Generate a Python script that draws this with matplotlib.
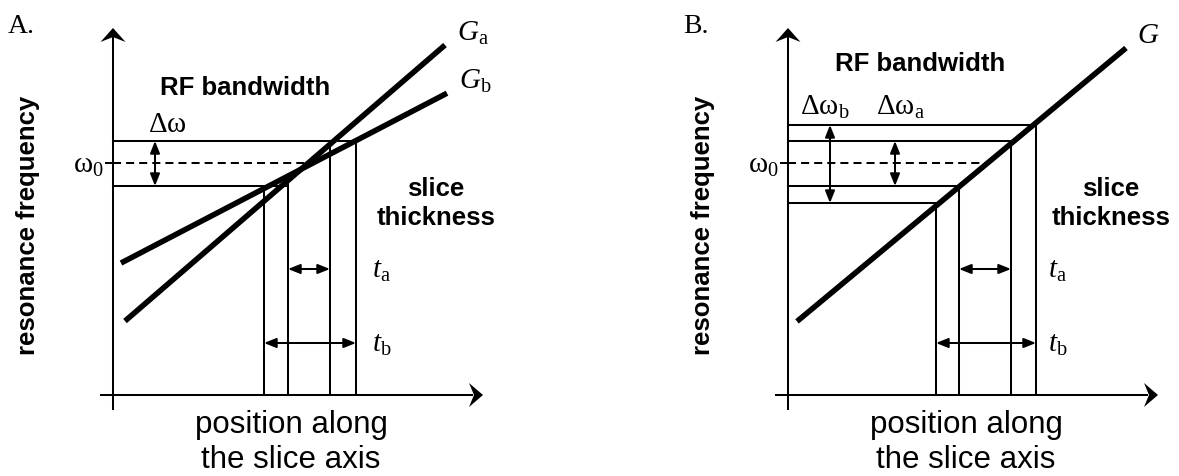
import matplotlib
matplotlib.use("Agg")
import matplotlib.pyplot as plt
from matplotlib.patches import Polygon

plt.rcParams["mathtext.fontset"] = "custom"
plt.rcParams["mathtext.rm"] = "Liberation Serif"
plt.rcParams["mathtext.it"] = "Liberation Serif:italic"

W, H = 1179, 476

omega0 = 232.5
band_a = [209, 254]          # RF bandwidth (Δω in A, Δω_a in B)
band_b = [192, 270]          # wider bandwidth Δω_b in B

# gradient lines: slope, intercept, x start, x end
grad_A = {"a": [0.8625, 63.6, 12, 332], "b": [0.521, 127.8, 8, 334]}
grad_B = [0.831, 66.1, 9, 338]

# slice edges along the position axis
slice_A = {"a": [175, 217], "b": [151, 243]}
slice_B = {"a": [171, 223], "b": [148, 248]}

THIN = 1.45
THICK = 4.0
DASH = (4, 2.5)
SERIF = 21
BOLD = dict(family="Liberation Sans", weight="bold", fontsize=18.5)


def line_y(g, x):
    return g[0] * x + g[1]


def draw_axes(ax):
    ax.plot([-13, 360], [0, 0], color="k", lw=THIN, solid_capstyle="butt")
    ax.plot([0, 0], [-15, 358], color="k", lw=THIN, solid_capstyle="butt")
    ax.add_patch(Polygon([(370, 0), (356, -12), (361, 0), (356, 12)],
                         closed=True, color="k", lw=0))
    ax.add_patch(Polygon([(0, 367), (12.5, 353), (0, 358), (-12.5, 353)],
                         closed=True, color="k", lw=0))


def dbl_arrow(ax, p, q):
    ax.annotate("", xy=q, xytext=p, annotation_clip=False,
                arrowprops=dict(arrowstyle="<|-|>,head_length=0.45,head_width=0.18",
                                mutation_scale=16, lw=THIN, color="k",
                                shrinkA=0, shrinkB=0))


def common_text(ax, letter, rf_y):
    ax.text(-105, 362, letter, family="Liberation Serif", fontsize=20,
            ha="left", va="baseline")
    ax.text(132, rf_y, "RF bandwidth", ha="center", va="baseline", **BOLD)
    ax.text(323, 199, "slice", ha="center", va="baseline", **BOLD)
    ax.text(323, 170, "thickness", ha="center", va="baseline", **BOLD)
    ax.text(-85, 170, "resonance frequency", rotation=90,
            ha="center", va="center", **BOLD)
    ax.text(178, -38, "position along", family="Liberation Sans",
            fontsize=22.5, ha="center", va="baseline")
    ax.text(178, -73, "the slice axis", family="Liberation Sans",
            fontsize=22.5, ha="center", va="baseline")
    ax.plot([-8, 0], [omega0, omega0], color="k", lw=THIN, dashes=DASH)
    ax.text(-9, omega0 - 10, r"$\mathrm{ω}_\mathrm{0}$", fontsize=SERIF,
            ha="right", va="baseline")


def slice_marks(ax, edges, g_left, g_right):
    l, r = edges
    ax.plot([l, l], [0, line_y(g_left, l)], color="k", lw=THIN)
    ax.plot([r, r], [0, line_y(g_right, r)], color="k", lw=THIN)


fig = plt.figure(figsize=(W / 100, H / 100), dpi=100)

# ---------------- panel A ----------------
axA = fig.add_axes([0, 0, 600 / W, 1])
axA.set_xlim(-113, 487)
axA.set_ylim(-81, 395)
axA.axis("off")

draw_axes(axA)
common_text(axA, "A.", 300)

x_cross = (omega0 - grad_A["a"][1]) / grad_A["a"][0]
axA.plot([0, x_cross], [omega0, omega0], color="k", lw=THIN, dashes=DASH)
axA.plot([0, slice_A["b"][1]], [band_a[1], band_a[1]], color="k", lw=THIN)
axA.plot([0, slice_A["a"][0]], [band_a[0], band_a[0]], color="k", lw=THIN)

for key in ["a", "b"]:
    slice_marks(axA, slice_A[key], grad_A[key], grad_A[key])

for key in ["a", "b"]:
    g = grad_A[key]
    axA.plot([g[2], g[3]], [line_y(g, g[2]), line_y(g, g[3])],
             color="k", lw=THICK, solid_capstyle="butt")
    axA.text(g[3] + 12, line_y(g, g[3]) + 4,
             r"$\mathit{G}_\mathrm{%s}$" % key, fontsize=SERIF,
             ha="left", va="baseline")

dbl_arrow(axA, (42, band_a[0]), (42, band_a[1]))
axA.text(35, 263, r"$\mathrm{Δω}$", fontsize=SERIF, ha="left", va="baseline")

dbl_arrow(axA, (slice_A["a"][0], 126), (slice_A["a"][1], 126))
dbl_arrow(axA, (slice_A["b"][0], 52), (slice_A["b"][1], 52))
axA.text(259, 117, r"$\mathit{t}_\mathrm{a}$", fontsize=SERIF, ha="left", va="baseline")
axA.text(259, 43, r"$\mathit{t}_\mathrm{b}$", fontsize=SERIF, ha="left", va="baseline")

# ---------------- panel B ----------------
axB = fig.add_axes([675 / W, 0, 504 / W, 1])
axB.set_xlim(-113, 391)
axB.set_ylim(-81, 395)
axB.axis("off")

draw_axes(axB)
common_text(axB, "B.", 324)

x_cross = (omega0 - grad_B[1]) / grad_B[0]
axB.plot([0, x_cross], [omega0, omega0], color="k", lw=THIN, dashes=DASH)
for band, key in [(band_b, "b"), (band_a, "a")]:
    axB.plot([0, slice_B[key][1]], [band[1], band[1]], color="k", lw=THIN)
    axB.plot([0, slice_B[key][0]], [band[0], band[0]], color="k", lw=THIN)
    slice_marks(axB, slice_B[key], grad_B, grad_B)

axB.plot([grad_B[2], grad_B[3]], [line_y(grad_B, grad_B[2]), line_y(grad_B, grad_B[3])],
         color="k", lw=THICK, solid_capstyle="butt")
axB.text(grad_B[3] + 11, line_y(grad_B, grad_B[3]) + 5, r"$\mathit{G}$",
         fontsize=SERIF, ha="left", va="baseline")

dbl_arrow(axB, (42, band_b[0]), (42, band_b[1]))
dbl_arrow(axB, (107, band_a[0]), (107, band_a[1]))
axB.text(12, 280, r"$\mathrm{Δω}_\mathrm{b}$", fontsize=SERIF, ha="left", va="baseline")
axB.text(88, 280, r"$\mathrm{Δω}_\mathrm{a}$", fontsize=SERIF, ha="left", va="baseline")

dbl_arrow(axB, (slice_B["a"][0], 126), (slice_B["a"][1], 126))
dbl_arrow(axB, (slice_B["b"][0], 52), (slice_B["b"][1], 52))
axB.text(260, 117, r"$\mathit{t}_\mathrm{a}$", fontsize=SERIF, ha="left", va="baseline")
axB.text(260, 43, r"$\mathit{t}_\mathrm{b}$", fontsize=SERIF, ha="left", va="baseline")

fig.savefig("out.png", dpi=100, facecolor="white")
